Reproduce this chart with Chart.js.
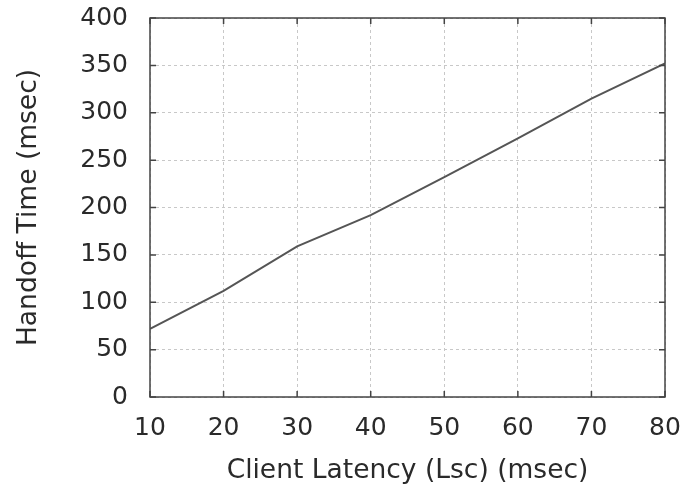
<!DOCTYPE html>
<html>
<head>
<meta charset="utf-8">
<script src="https://cdn.jsdelivr.net/npm/chart.js@4"></script>
<style>
  html, body { margin: 0; padding: 0; background: #fff; }
  #wrap { width: 687px; height: 487px; }
</style>
</head>
<body>
<div id="wrap"><canvas id="handoffChart"></canvas></div>
<script>
const latency = [10, 20, 30, 40, 50, 60, 70, 80];
const handoffTime = [72, 112, 159, 192, 232, 273, 315, 352];
const xTicks = [10, 20, 30, 40, 50, 60, 70, 80];
const yTicks = [0, 50, 100, 150, 200, 250, 300, 350, 400];

// gnuplot-like frame with inward tick marks
const framePlugin = {
    id: "frame",
    afterDraw(chart) {
        const { ctx, chartArea: a, scales } = chart;
        const len = 6;
        ctx.save();
        ctx.strokeStyle = "#444";
        ctx.lineWidth = 1.5;
        ctx.beginPath();
        xTicks.forEach((v) => {
            const x = scales.x.getPixelForValue(v);
            ctx.moveTo(x, a.bottom); ctx.lineTo(x, a.bottom - len);
            ctx.moveTo(x, a.top); ctx.lineTo(x, a.top + len);
        });
        yTicks.forEach((v) => {
            const y = scales.y.getPixelForValue(v);
            ctx.moveTo(a.left, y); ctx.lineTo(a.left + len, y);
            ctx.moveTo(a.right, y); ctx.lineTo(a.right - len, y);
        });
        ctx.stroke();
        ctx.strokeRect(a.left, a.top, a.right - a.left, a.bottom - a.top);
        ctx.restore();
    },
};

document.addEventListener("DOMContentLoaded", () => {
    const ctx = document.getElementById("handoffChart");
    Chart.defaults.font.family = "'DejaVu Sans', sans-serif";
    Chart.defaults.color = "#2a2a2a";

    new Chart(ctx, {
        type: "line",
        data: {
            datasets: [
                {
                    label: "Handoff Time",
                    data: latency.map((x, i) => ({ x, y: handoffTime[i] })),
                    borderColor: "#555",
                    borderWidth: 2,
                    pointRadius: 0,
                    tension: 0,
                },
            ],
        },
        options: {
            responsive: true,
            maintainAspectRatio: false,
            animation: false,
            layout: { padding: { left: 0, right: 22, top: 18, bottom: 0 } },
            scales: {
                x: {
                    type: "linear",
                    min: 10,
                    max: 80,
                    afterBuildTicks: (s) => { s.ticks = xTicks.map((v) => ({ value: v })); },
                    afterFit: (s) => {
                        s.height = 90;
                        s.paddingLeft = 0;
                        s.paddingRight = 0;
                    },
                    ticks: { font: { size: 25 }, padding: 16, color: "#2a2a2a" },
                    grid: { color: "#c8c8c8", drawTicks: false, lineWidth: 1 },
                    border: { display: false, dash: [3, 3] },
                    title: {
                        display: true,
                        text: "Client Latency (Lsc) (msec)",
                        font: { size: 26.5 },
                        color: "#2a2a2a",
                        padding: { top: 0, bottom: 0 },
                    },
                },
                y: {
                    min: 0,
                    max: 400,
                    afterBuildTicks: (s) => { s.ticks = yTicks.map((v) => ({ value: v })); },
                    afterFit: (s) => {
                        s.width = 150;
                        s.paddingTop = 0;
                        s.paddingBottom = 0;
                    },
                    ticks: { font: { size: 25 }, padding: 22, color: "#2a2a2a" },
                    grid: { color: "#c8c8c8", drawTicks: false, lineWidth: 1 },
                    border: { display: false, dash: [3, 3] },
                    title: {
                        display: true,
                        text: "Handoff Time (msec)",
                        font: { size: 26.5 },
                        color: "#2a2a2a",
                        padding: { top: 13, bottom: 0 },
                    },
                },
            },
            plugins: {
                legend: { display: false },
                tooltip: { enabled: false },
            },
        },
        plugins: [framePlugin],
    });
});
</script>
</body>
</html>
